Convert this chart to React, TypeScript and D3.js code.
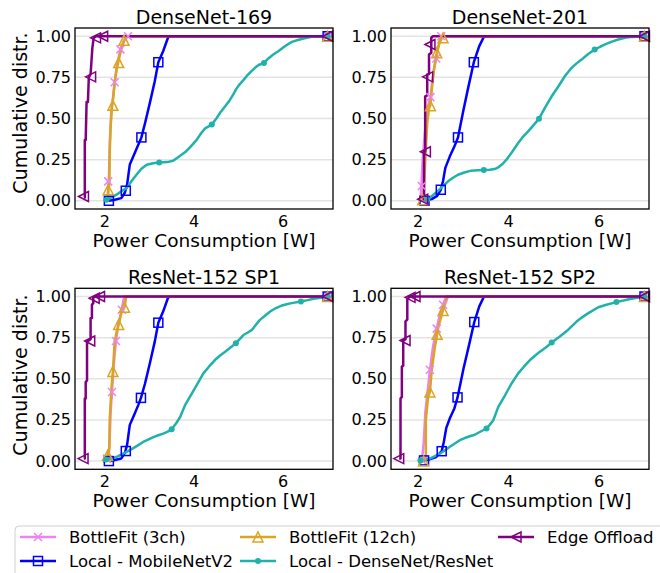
import * as d3 from 'd3'

type Pt = [number, number]

// ---- data (power [W], cumulative fraction) ----
const SERIES_NAMES = ['BottleFit (3ch)', 'Local - MobileNetV2', 'BottleFit (12ch)', 'Local - DenseNet/ResNet', 'Edge Offload']
const PANEL_TITLES = ['DenseNet-169', 'DenseNet-201', 'ResNet-152 SP1', 'ResNet-152 SP2']
const Y_TICKS = [0, 0.25, 0.5, 0.75, 1.0]
const X_TICKS = [2, 4, 6]

// DenseNet-169
const D169_BF3: Pt[] = [[2.06, 0.01], [2.08, 0.1], [2.09, 0.12], [2.11, 0.35], [2.14, 0.52], [2.18, 0.62], [2.22, 0.72], [2.27, 0.82], [2.31, 0.87], [2.35, 0.92], [2.42, 0.97], [2.52, 1.0], [7.0, 1.0]]
const D169_BF3_M: Pt[] = [[2.075, 0.118], [2.22, 0.72], [2.35, 0.92], [2.52, 1.0], [7.0, 1.0]]
const D169_MOB: Pt[] = [[2.09, 0.0], [2.2, 0.005], [2.37, 0.016], [2.45, 0.05], [2.5, 0.1], [2.53, 0.16], [2.56, 0.22], [2.64, 0.27], [2.75, 0.34], [2.82, 0.385], [2.9, 0.47], [3.01, 0.595], [3.12, 0.726], [3.2, 0.842], [3.31, 0.91], [3.42, 0.994], [3.47, 1.0], [7.0, 1.0]]
const D169_MOB_M: Pt[] = [[2.09, 0.0], [2.47, 0.061], [2.82, 0.385], [3.2, 0.842], [7.0, 1.0]]
const D169_BF12: Pt[] = [[2.07, 0.01], [2.08, 0.07], [2.1, 0.1], [2.11, 0.3], [2.13, 0.45], [2.16, 0.58], [2.19, 0.63], [2.22, 0.72], [2.26, 0.79], [2.3, 0.84], [2.34, 0.89], [2.38, 0.93], [2.43, 0.97], [2.47, 1.0], [7.0, 1.0]]
const D169_BF12_M: Pt[] = [[2.075, 0.067], [2.18, 0.58], [2.31, 0.84], [2.43, 0.976], [7.0, 1.0]]
const D169_DEN: Pt[] = [[2.04, 0.006], [2.15, 0.02], [2.26, 0.037], [2.38, 0.06], [2.49, 0.077], [2.6, 0.12], [2.71, 0.158], [2.82, 0.195], [2.94, 0.219], [3.08, 0.228], [3.22, 0.233], [3.4, 0.235], [3.53, 0.243], [3.62, 0.26], [3.72, 0.28], [3.82, 0.3], [3.91, 0.325], [4.06, 0.37], [4.16, 0.41], [4.25, 0.44], [4.4, 0.463], [4.51, 0.503], [4.6, 0.54], [4.7, 0.574], [4.8, 0.61], [4.88, 0.645], [4.95, 0.68], [5.02, 0.706], [5.1, 0.73], [5.18, 0.757], [5.28, 0.785], [5.37, 0.808], [5.45, 0.825], [5.57, 0.838], [5.67, 0.865], [5.78, 0.889], [5.9, 0.91], [6.01, 0.933], [6.1, 0.95], [6.2, 0.966], [6.33, 0.977], [6.46, 0.986], [6.58, 0.993], [6.68, 0.998], [7.0, 1.0]]
const D169_DEN_M: Pt[] = [[2.04, 0.006], [3.22, 0.233], [4.4, 0.463], [5.57, 0.838], [7.0, 1.0]]
const D169_EDGE: Pt[] = [[1.53, 0.02], [1.55, 0.02], [1.55, 0.37], [1.57, 0.37], [1.59, 0.6], [1.62, 0.6], [1.64, 0.75], [1.68, 0.77], [1.7, 0.85], [1.72, 0.93], [1.75, 0.99], [1.8, 1.0], [7.0, 1.0]]
const D169_EDGE_M: Pt[] = [[1.52, 0.026], [1.68, 0.753], [1.79, 0.99], [1.95, 1.0], [7.0, 1.0]]

// DenseNet-201
const D201_BF3: Pt[] = [[2.05, 0.0], [2.07, 0.08], [2.1, 0.25], [2.15, 0.42], [2.2, 0.55], [2.27, 0.635], [2.31, 0.72], [2.35, 0.8], [2.4, 0.868], [2.45, 0.94], [2.51, 1.0], [7.0, 1.0]]
const D201_BF3_M: Pt[] = [[2.08, 0.09], [2.27, 0.63], [2.4, 0.865], [2.51, 1.0], [7.0, 1.0]]
const D201_MOB: Pt[] = [[2.14, 0.0], [2.3, 0.01], [2.42, 0.03], [2.5, 0.067], [2.55, 0.12], [2.6, 0.2], [2.7, 0.27], [2.8, 0.33], [2.88, 0.385], [3.0, 0.55], [3.1, 0.68], [3.23, 0.842], [3.35, 0.94], [3.45, 0.995], [3.5, 1.0], [7.0, 1.0]]
const D201_MOB_M: Pt[] = [[2.14, 0.0], [2.5, 0.067], [2.88, 0.385], [3.23, 0.842], [7.0, 1.0]]
const D201_BF12: Pt[] = [[2.09, 0.0], [2.12, 0.03], [2.14, 0.15], [2.17, 0.32], [2.2, 0.47], [2.24, 0.56], [2.27, 0.58], [2.31, 0.7], [2.35, 0.8], [2.41, 0.9], [2.47, 0.96], [2.55, 1.0], [7.0, 1.0]]
const D201_BF12_M: Pt[] = [[2.1, 0.006], [2.27, 0.578], [2.41, 0.9], [2.55, 0.99], [7.0, 1.0]]
const D201_DEN: Pt[] = [[2.2, 0.008], [2.31, 0.03], [2.43, 0.057], [2.55, 0.09], [2.66, 0.118], [2.77, 0.14], [2.88, 0.158], [3.02, 0.172], [3.17, 0.183], [3.31, 0.186], [3.45, 0.187], [3.58, 0.188], [3.69, 0.193], [3.78, 0.205], [3.87, 0.225], [3.95, 0.25], [4.06, 0.29], [4.21, 0.351], [4.32, 0.39], [4.43, 0.422], [4.55, 0.46], [4.67, 0.499], [4.8, 0.564], [4.95, 0.635], [5.1, 0.696], [5.24, 0.757], [5.39, 0.808], [5.5, 0.835], [5.61, 0.858], [5.75, 0.89], [5.9, 0.919], [6.02, 0.936], [6.13, 0.95], [6.28, 0.967], [6.42, 0.98], [6.57, 0.99], [6.72, 0.996], [7.0, 1.0]]
const D201_DEN_M: Pt[] = [[2.2, 0.008], [3.45, 0.187], [4.67, 0.499], [5.9, 0.919], [7.0, 1.0]]
const D201_EDGE: Pt[] = [[2.1, 0.01], [2.13, 0.01], [2.13, 0.3], [2.155, 0.3], [2.155, 0.635], [2.2, 0.64], [2.2, 0.767], [2.24, 0.77], [2.24, 0.889], [2.29, 0.9], [2.29, 0.99], [2.32, 1.0], [7.0, 1.0]]
const D201_EDGE_M: Pt[] = [[2.1, 0.01], [2.16, 0.298], [2.21, 0.753], [2.26, 0.95], [7.0, 1.0]]

// ResNet-152 SP1
const R1_BF3: Pt[] = [[2.05, 0.0], [2.09, 0.03], [2.11, 0.15], [2.13, 0.3], [2.16, 0.42], [2.19, 0.55], [2.22, 0.65], [2.25, 0.73], [2.3, 0.83], [2.38, 0.92], [2.42, 0.98], [2.45, 1.0], [7.0, 1.0]]
const R1_BF3_M: Pt[] = [[2.05, 0.015], [2.16, 0.42], [2.25, 0.73], [2.38, 0.92], [7.0, 1.0]]
const R1_MOB: Pt[] = [[2.09, 0.0], [2.2, 0.005], [2.37, 0.016], [2.45, 0.05], [2.5, 0.1], [2.53, 0.16], [2.56, 0.22], [2.64, 0.27], [2.75, 0.34], [2.81, 0.384], [2.9, 0.47], [3.01, 0.595], [3.12, 0.726], [3.2, 0.841], [3.31, 0.91], [3.42, 0.994], [3.47, 1.0], [7.0, 1.0]]
const R1_MOB_M: Pt[] = [[2.09, 0.0], [2.47, 0.061], [2.81, 0.384], [3.2, 0.841], [7.0, 1.0]]
const R1_BF12: Pt[] = [[2.04, 0.004], [2.06, 0.035], [2.1, 0.08], [2.11, 0.26], [2.15, 0.45], [2.18, 0.545], [2.22, 0.726], [2.27, 0.79], [2.31, 0.83], [2.37, 0.898], [2.44, 0.935], [2.48, 1.0], [7.0, 1.0]]
const R1_BF12_M: Pt[] = [[2.06, 0.035], [2.18, 0.545], [2.31, 0.83], [2.44, 0.935], [7.0, 1.0]]
const R1_DEN: Pt[] = [[2.03, 0.01], [2.19, 0.018], [2.3, 0.03], [2.41, 0.045], [2.52, 0.06], [2.64, 0.079], [2.75, 0.097], [2.86, 0.116], [2.97, 0.13], [3.09, 0.146], [3.2, 0.157], [3.31, 0.167], [3.4, 0.178], [3.5, 0.193], [3.6, 0.23], [3.69, 0.268], [3.8, 0.34], [3.95, 0.41], [4.1, 0.48], [4.21, 0.533], [4.34, 0.575], [4.47, 0.614], [4.58, 0.64], [4.7, 0.665], [4.82, 0.69], [4.94, 0.716], [5.02, 0.74], [5.11, 0.766], [5.2, 0.78], [5.3, 0.797], [5.39, 0.828], [5.48, 0.858], [5.6, 0.885], [5.71, 0.909], [5.84, 0.93], [5.97, 0.945], [6.08, 0.953], [6.19, 0.96], [6.4, 0.97], [6.55, 0.978], [6.68, 0.986], [6.85, 0.993], [7.0, 1.0]]
const R1_DEN_M: Pt[] = [[2.03, 0.01], [3.5, 0.193], [4.94, 0.716], [6.4, 0.97], [7.0, 1.0]]
const R1_EDGE: Pt[] = [[1.53, 0.015], [1.55, 0.015], [1.55, 0.38], [1.57, 0.38], [1.57, 0.48], [1.6, 0.49], [1.6, 0.726], [1.68, 0.74], [1.68, 0.868], [1.71, 0.87], [1.71, 0.95], [1.74, 0.96], [1.74, 0.994], [1.78, 1.0], [7.0, 1.0]]
const R1_EDGE_M: Pt[] = [[1.51, 0.015], [1.66, 0.73], [1.76, 0.99], [1.88, 1.0], [7.0, 1.0]]

// ResNet-152 SP2
const R2_BF3: Pt[] = [[2.08, 0.0], [2.12, 0.1], [2.16, 0.3], [2.22, 0.45], [2.26, 0.555], [2.33, 0.7], [2.41, 0.805], [2.48, 0.89], [2.55, 0.95], [2.62, 1.0], [7.0, 1.0]]
const R2_BF3_M: Pt[] = [[2.1, 0.0], [2.26, 0.555], [2.41, 0.805], [2.55, 0.95], [7.0, 1.0]]
const R2_MOB: Pt[] = [[2.13, 0.004], [2.25, 0.01], [2.4, 0.025], [2.52, 0.06], [2.57, 0.12], [2.62, 0.2], [2.7, 0.26], [2.8, 0.32], [2.87, 0.387], [3.0, 0.56], [3.12, 0.7], [3.24, 0.845], [3.35, 0.94], [3.45, 0.997], [3.5, 1.0], [7.0, 1.0]]
const R2_MOB_M: Pt[] = [[2.13, 0.004], [2.52, 0.06], [2.87, 0.387], [3.24, 0.845], [7.0, 1.0]]
const R2_BF12: Pt[] = [[2.13, 0.0], [2.17, 0.02], [2.17, 0.25], [2.22, 0.39], [2.26, 0.42], [2.3, 0.553], [2.37, 0.695], [2.42, 0.77], [2.44, 0.807], [2.55, 0.919], [2.6, 0.96], [2.66, 1.0], [7.0, 1.0]]
const R2_BF12_M: Pt[] = [[2.12, 0.0], [2.26, 0.42], [2.42, 0.77], [2.55, 0.915], [7.0, 1.0]]
const R2_DEN: Pt[] = [[2.04, 0.004], [2.15, 0.01], [2.26, 0.015], [2.37, 0.03], [2.48, 0.046], [2.59, 0.065], [2.7, 0.087], [2.81, 0.107], [2.92, 0.127], [3.03, 0.14], [3.14, 0.151], [3.25, 0.16], [3.35, 0.175], [3.51, 0.198], [3.58, 0.22], [3.66, 0.248], [3.77, 0.329], [3.92, 0.4], [4.06, 0.47], [4.21, 0.533], [4.34, 0.575], [4.47, 0.614], [4.58, 0.64], [4.69, 0.665], [4.82, 0.69], [4.95, 0.72], [5.13, 0.757], [5.31, 0.797], [5.5, 0.848], [5.63, 0.875], [5.76, 0.899], [5.98, 0.935], [6.16, 0.95], [6.38, 0.966], [6.68, 0.985], [7.0, 1.0]]
const R2_DEN_M: Pt[] = [[2.05, 0.004], [3.51, 0.198], [4.95, 0.72], [6.38, 0.966], [7.0, 1.0]]
const R2_EDGE: Pt[] = [[1.58, 0.015], [1.61, 0.015], [1.61, 0.38], [1.64, 0.39], [1.64, 0.574], [1.67, 0.58], [1.67, 0.733], [1.72, 0.74], [1.72, 0.849], [1.76, 0.86], [1.76, 0.98], [1.8, 1.0], [7.0, 1.0]]
const R2_EDGE_M: Pt[] = [[1.57, 0.015], [1.71, 0.733], [1.82, 0.995], [1.93, 1.0], [7.0, 1.0]]

// per panel, in plotting order: BF3, MobileNetV2, BF12, DenseNet/ResNet, Edge
const PANEL_LINES = [
  [D169_BF3, D169_MOB, D169_BF12, D169_DEN, D169_EDGE],
  [D201_BF3, D201_MOB, D201_BF12, D201_DEN, D201_EDGE],
  [R1_BF3, R1_MOB, R1_BF12, R1_DEN, R1_EDGE],
  [R2_BF3, R2_MOB, R2_BF12, R2_DEN, R2_EDGE]
]
const PANEL_MARKS = [
  [D169_BF3_M, D169_MOB_M, D169_BF12_M, D169_DEN_M, D169_EDGE_M],
  [D201_BF3_M, D201_MOB_M, D201_BF12_M, D201_DEN_M, D201_EDGE_M],
  [R1_BF3_M, R1_MOB_M, R1_BF12_M, R1_DEN_M, R1_EDGE_M],
  [R2_BF3_M, R2_MOB_M, R2_BF12_M, R2_DEN_M, R2_EDGE_M]
]

// styling
const COLORS = ['violet', 'blue', 'goldenrod', 'lightseagreen', 'purple']
const MARKERS = ['x', 's', '^', '.', '<']
const FONT = 'DejaVu Sans, sans-serif'

const W = 660
const H = 573

const LAYOUT = [
  { left: 75, right: 333, top: 28, bottom: 209, xd: [1.33, 7.12], ylab: true, ylabY: 113 },
  { left: 391, right: 649, top: 28, bottom: 209, xd: [1.4, 7.1], ylab: false, ylabY: 0 },
  { left: 75, right: 333, top: 288.3, bottom: 469.3, xd: [1.33, 7.12], ylab: true, ylabY: 375 },
  { left: 391, right: 649, top: 288.3, bottom: 469.3, xd: [1.4, 7.1], ylab: false, ylabY: 0 }
]

const Marker = ({ kind, x, y, color }: { kind: string; x: number; y: number; color: string }) => {
  const sw = 1.5
  if (kind === 'x') {
    const s = 4
    return (
      <path d={`M${x - s},${y - s}L${x + s},${y + s}M${x - s},${y + s}L${x + s},${y - s}`} stroke={color} strokeWidth={sw} fill="none" />
    )
  }
  if (kind === 's') {
    const s = 4.5
    return <rect x={x - s} y={y - s} width={2 * s} height={2 * s} stroke={color} strokeWidth={sw} fill="none" />
  }
  if (kind === '^') {
    const s = 5
    return <path d={`M${x},${y - s}L${x + s},${y + s}L${x - s},${y + s}Z`} stroke={color} strokeWidth={sw} fill="none" />
  }
  if (kind === '<') {
    const s = 5
    return <path d={`M${x - s},${y}L${x + s},${y - s}L${x + s},${y + s}Z`} stroke={color} strokeWidth={sw} fill="none" />
  }
  return <circle cx={x} cy={y} r={3} fill={color} />
}

const Panel = ({ idx }: { idx: number }) => {
  const L = LAYOUT[idx]
  const x = d3.scaleLinear().domain(L.xd).range([L.left, L.right])
  const y = d3.scaleLinear().domain([-0.05, 1.05]).range([L.bottom, L.top])
  const line = d3
    .line<Pt>()
    .x((d) => x(d[0]))
    .y((d) => y(d[1]))
  const clipId = `clip-${idx}`
  const cx = (L.left + L.right) / 2

  return (
    <g>
      <defs>
        <clipPath id={clipId}>
          <rect x={L.left} y={L.top} width={L.right - L.left} height={L.bottom - L.top} />
        </clipPath>
      </defs>
      {/* horizontal grid */}
      {Y_TICKS.map((t) => (
        <line key={t} x1={L.left} x2={L.right} y1={y(t)} y2={y(t)} stroke="#e3e3e3" strokeWidth={1.5} />
      ))}
      <g clipPath={`url(#${clipId})`}>
        {PANEL_LINES[idx].map((pts, i) => (
          <path key={i} d={line(pts) || ''} fill="none" stroke={COLORS[i]} strokeWidth={2.5} strokeLinejoin="round" />
        ))}
      </g>
      {PANEL_LINES[idx].map((_, i) => (
        <g key={i}>
          {PANEL_MARKS[idx][i].map((p, j) => (
            <Marker key={j} kind={MARKERS[i]} x={x(p[0])} y={y(p[1])} color={COLORS[i]} />
          ))}
        </g>
      ))}
      <rect x={L.left} y={L.top} width={L.right - L.left} height={L.bottom - L.top} fill="none" stroke="#000" strokeWidth={1.3} />
      {Y_TICKS.map((t) => (
        <text key={t} x={L.left - 4} y={y(t)} textAnchor="end" dominantBaseline="central" fontSize={16} fontFamily={FONT}>
          {t.toFixed(2)}
        </text>
      ))}
      {X_TICKS.map((t) => (
        <text key={t} x={x(t)} y={L.bottom + 18} textAnchor="middle" fontSize={16} fontFamily={FONT}>
          {t}
        </text>
      ))}
      <text x={cx} y={L.top - 4} textAnchor="middle" fontSize={19} fontFamily={FONT}>
        {PANEL_TITLES[idx]}
      </text>
      <text x={cx} y={L.bottom + 38} textAnchor="middle" fontSize={18.5} fontFamily={FONT}>
        Power Consumption [W]
      </text>
      {L.ylab && (
        <text transform={`translate(26.5,${L.ylabY}) rotate(-90)`} textAnchor="middle" fontSize={19} fontFamily={FONT}>
          Cumulative distr.
        </text>
      )}
    </g>
  )
}

// legend slots follow matplotlib's column-wise fill (ncol=3)
const LEG_COLS = [20, 240, 498]
const LEG_ROWS = [537, 561]

const Legend = () => (
  <g>
    <rect x={15} y={526} width={W} height={80} rx={4} fill="#fff" fillOpacity={0.8} stroke="#d0d0d0" strokeWidth={1} />
    {SERIES_NAMES.map((name, i) => {
      const col = Math.floor(i / 2)
      const row = i % 2
      const x0 = LEG_COLS[col]
      const yy = LEG_ROWS[row]
      return (
        <g key={name}>
          <line x1={x0} x2={x0 + 36} y1={yy} y2={yy} stroke={COLORS[i]} strokeWidth={2.5} />
          <Marker kind={MARKERS[i]} x={x0 + 18} y={yy} color={COLORS[i]} />
          <text x={x0 + 49} y={yy} dominantBaseline="central" fontSize={16.5} fontFamily={FONT}>
            {name}
          </text>
        </g>
      )
    })}
  </g>
)

export default function App() {
  return (
    <svg width={W} height={H} style={{ position: 'absolute', left: 0, top: 0, background: '#fff' }}>
      {PANEL_TITLES.map((_, i) => (
        <Panel key={i} idx={i} />
      ))}
      <Legend />
    </svg>
  )
}
